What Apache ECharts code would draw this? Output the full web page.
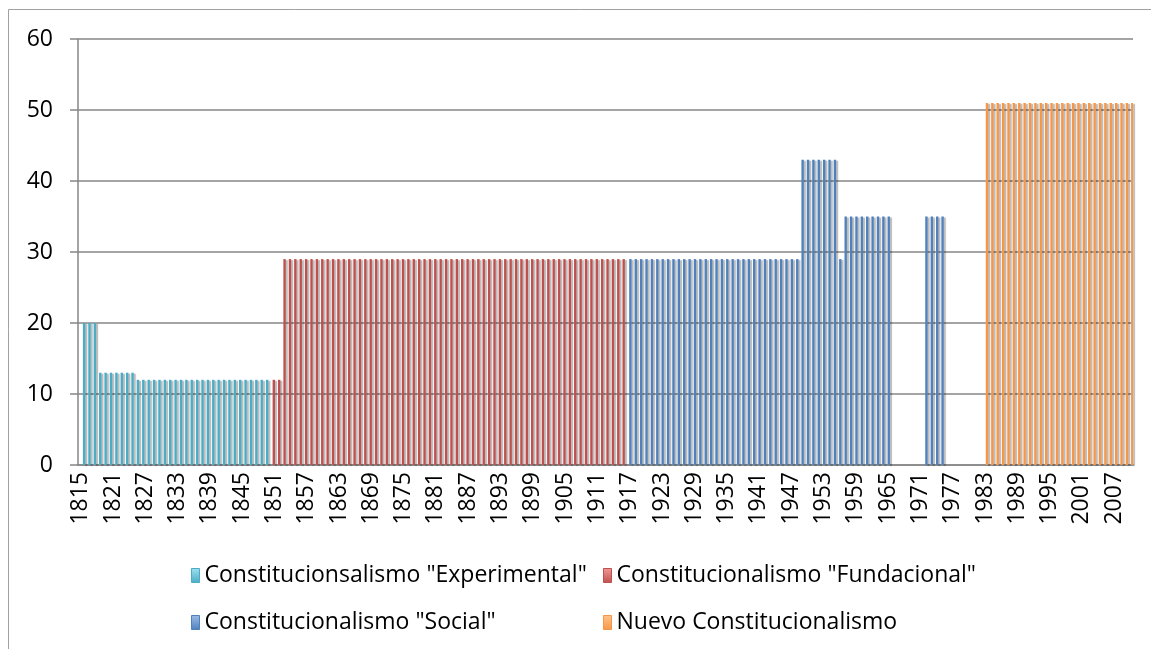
<!DOCTYPE html>
<html>
<head>
<meta charset="utf-8">
<script src="https://cdn.jsdelivr.net/npm/echarts@6/dist/echarts.min.js"></script>
<style>
  html, body { margin: 0; padding: 0; background: #fff; }
  #chart { width: 1151px; height: 649px; }
</style>
</head>
<body>
<div id="chart"></div>
<script>
// years on the axis, one bar slot per year
const firstYear = 1815
const lastYear = 2010

// each period: first year with a value, then one value per year (null = no bar)
const experimentalStart = 1816
const experimental = [
  20, 20, 20,
  13, 13, 13, 13, 13, 13, 13,
  12, 12, 12, 12, 12, 12, 12, 12, 12, 12,
  12, 12, 12, 12, 12, 12, 12, 12, 12, 12,
  12, 12, 12, 12, 12,
]

const fundacionalStart = 1851
const fundacional = [
  12, 12,
  29, 29, 29, 29, 29, 29, 29, 29, 29, 29,
  29, 29, 29, 29, 29, 29, 29, 29, 29, 29,
  29, 29, 29, 29, 29, 29, 29, 29, 29, 29,
  29, 29, 29, 29, 29, 29, 29, 29, 29, 29,
  29, 29, 29, 29, 29, 29, 29, 29, 29, 29,
  29, 29, 29, 29, 29, 29, 29, 29, 29, 29,
  29, 29, 29, 29,
]

const socialStart = 1917
const social = [
  29, 29, 29, 29, 29, 29, 29, 29, 29, 29,
  29, 29, 29, 29, 29, 29, 29, 29, 29, 29,
  29, 29, 29, 29, 29, 29, 29, 29, 29, 29,
  29, 29,
  43, 43, 43, 43, 43, 43, 43,
  29,
  35, 35, 35, 35, 35, 35, 35, 35, 35,
  null, null, null, null, null, null,
  35, 35, 35, 35,
]

const nuevoStart = 1983
const nuevo = [
  51, 51, 51, 51, 51, 51, 51, 51, 51, 51,
  51, 51, 51, 51, 51, 51, 51, 51, 51, 51,
  51, 51, 51, 51, 51, 51, 51, 51,
]

const seriesNames = [
  'Constitucionsalismo "Experimental"',
  'Constitucionalismo "Fundacional"',
  'Constitucionalismo "Social"',
  'Nuevo Constitucionalismo',
]
const seriesColors = ['#4BACC6', '#C0504D', '#4F81BD', '#F79646']
const lightColors = ['#9fe0f0', '#f09a98', '#9dbbe6', '#ffc48f']

const yTicks = [0, 10, 20, 30, 40, 50, 60]

const years = []
for (let y = firstYear; y <= lastYear; y++) {
  years.push(String(y))
}

// place a period's values on the full year axis
const spread = (start, values) => {
  const out = years.map(() => null)
  values.forEach((v, i) => {
    out[start - firstYear + i] = v
  })
  return out
}

const periods = [
  spread(experimentalStart, experimental),
  spread(fundacionalStart, fundacional),
  spread(socialStart, social),
  spread(nuevoStart, nuevo),
]

const font = 'Open Sans'
const gridColor = '#868686'

const legendItem = (i) => {
  return {
    name: seriesNames[i],
    itemStyle: {
      color: new echarts.graphic.LinearGradient(0, 0, 0, 1, [
        { offset: 0, color: lightColors[i] },
        { offset: 1, color: seriesColors[i] },
      ]),
      borderColor: seriesColors[i],
      borderWidth: 1,
    },
  }
}

const legendStyle = {
  orient: 'vertical',
  top: 559,
  itemWidth: 8,
  itemHeight: 14,
  itemGap: 24,
  icon: 'rect',
  selectedMode: false,
  textStyle: {
    fontFamily: font,
    fontSize: 23,
    color: '#000',
  },
}

const chart = echarts.init(document.getElementById('chart'), null, { renderer: 'canvas' })

const option = {
  backgroundColor: '#fff',
  animation: false,
  graphic: [
    {
      type: 'rect',
      shape: { x: 8.5, y: 9.5, width: 1300, height: 800 },
      style: { fill: 'none', stroke: '#a0a0a0', lineWidth: 1 },
      silent: true,
    },
  ],
  grid: {
    left: 78,
    right: 18,
    top: 39,
    bottom: 184,
  },
  legend: [
    Object.assign({}, legendStyle, {
      left: 186,
      data: [legendItem(0), legendItem(2)],
    }),
    Object.assign({}, legendStyle, {
      left: 598,
      data: [legendItem(1), legendItem(3)],
    }),
  ],
  xAxis: {
    type: 'category',
    data: years,
    boundaryGap: true,
    axisLine: { lineStyle: { color: gridColor, width: 1.5 } },
    axisTick: {
      interval: 0,
      length: 6,
      lineStyle: { color: gridColor, width: 1 },
    },
    axisLabel: {
      interval: 5,
      rotate: 90,
      margin: 7,
      fontFamily: font,
      fontSize: 23,
      color: '#000',
    },
  },
  yAxis: {
    type: 'value',
    min: yTicks[0],
    max: yTicks[yTicks.length - 1],
    interval: 10,
    axisLine: { show: true, lineStyle: { color: gridColor, width: 1.5 } },
    axisTick: { show: true, length: 8, lineStyle: { color: gridColor, width: 1.5 } },
    axisLabel: {
      margin: 25,
      fontFamily: font,
      fontSize: 23,
      color: '#000',
    },
    splitLine: { lineStyle: { color: gridColor, width: 1.5 } },
  },
  series: periods.map((d, i) => {
    return {
      name: seriesNames[i],
      type: 'bar',
      data: d,
      barWidth: 2.4,
      barGap: '-45%',
      itemStyle: {
        color: seriesColors[i],
        shadowColor: 'rgba(0, 0, 0, 0.28)',
        shadowBlur: 1,
        shadowOffsetX: 2,
        shadowOffsetY: 1,
      },
    }
  }),
}

chart.setOption(option)
</script>
</body>
</html>
